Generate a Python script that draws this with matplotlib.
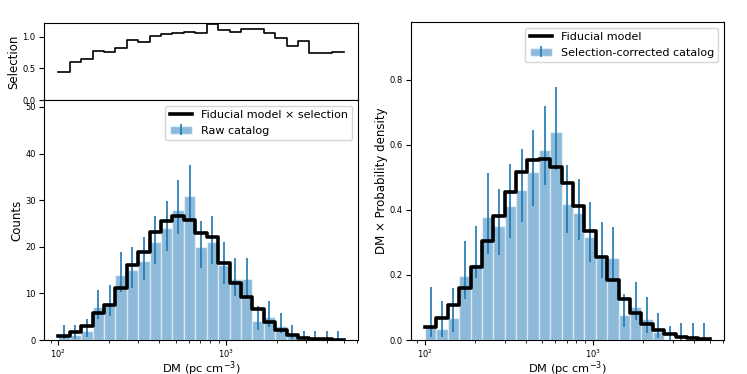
import numpy as np
import matplotlib
matplotlib.use("Agg")
import matplotlib.pyplot as plt
from matplotlib.legend_handler import HandlerTuple

# ビン (DM 100 - 5000, 対数で 25 本)
dm_min = 100.0
dm_max = 5000.0
n_bins = 25

# 選択関数
selection = [0.443, 0.604, 0.641, 0.781, 0.760, 0.818, 0.948, 0.911, 1.010, 1.036,
             1.063, 1.078, 1.057, 1.198, 1.109, 1.078, 1.125, 1.120, 1.052, 0.979,
             0.859, 0.932, 0.734, 0.740, 0.755]

# 左: 生カタログのカウントとモデル×選択
raw_counts = [1, 1, 2, 7, 8, 14, 15, 17, 21, 24, 28, 31, 20, 21, 16, 13, 13, 4, 5, 3,
              1, 0, 0, 0, 0]
raw_err_lo = [0.17, 0.17, 0.7, 4.4, 5.1, 10.3, 11.2, 12.9, 16.4, 19.2, 22.8, 25.6, 15.5,
              16.4, 12.0, 9.4, 9.4, 2.1, 2.8, 1.4, 0.17, 0, 0, 0, 0]
raw_err_hi = [3.3, 3.3, 4.6, 10.7, 11.9, 18.8, 19.9, 22.2, 26.6, 29.9, 34.3, 37.6, 25.5,
              26.6, 21.1, 17.7, 17.7, 7.2, 8.4, 5.9, 3.3, 1.84, 1.84, 1.84, 1.84]
model_sel = [0.86, 1.8, 3.07, 5.7, 7.6, 11.1, 16.2, 18.9, 23.2, 25.5, 26.6, 25.7, 22.9,
             22.0, 16.6, 12.3, 9.3, 6.6, 3.8, 2.1, 1.07, 0.5, 0.2, 0.14, 0.07]

# 右: 選択補正済みカタログとモデル
corr_vals = [0.046, 0.035, 0.067, 0.197, 0.233, 0.379, 0.352, 0.412, 0.462, 0.517,
             0.585, 0.639, 0.418, 0.392, 0.318, 0.253, 0.253, 0.077, 0.103, 0.065,
             0.024, 0, 0, 0, 0]
corr_err_lo = [0.008, 0.008, 0.026, 0.126, 0.19, 0.265, 0.26, 0.315, 0.364, 0.413,
               0.477, 0.523, 0.328, 0.308, 0.241, 0.19, 0.185, 0.041, 0.062, 0.023,
               0.005, 0, 0, 0, 0]
corr_err_hi = [0.164, 0.121, 0.159, 0.306, 0.351, 0.513, 0.465, 0.54, 0.587, 0.646,
               0.72, 0.777, 0.538, 0.496, 0.423, 0.362, 0.349, 0.141, 0.177, 0.133,
               0.084, 0.043, 0.053, 0.053, 0.053]
model_pdf = [0.040, 0.069, 0.108, 0.159, 0.226, 0.303, 0.382, 0.455, 0.518, 0.554,
             0.558, 0.531, 0.484, 0.413, 0.335, 0.256, 0.185, 0.126, 0.082, 0.048,
             0.031, 0.017, 0.009, 0.005, 0.003]

edges = np.geomspace(dm_min, dm_max, n_bins + 1)
centers = np.sqrt(edges[:-1] * edges[1:])
widths = np.diff(edges)

TICK_FS = 6.0
LABEL_FS = 8.5
LEG_FS = 8.0


def draw_hist(ax, vals, lo, hi, model, model_label, data_label):
    vals = np.asarray(vals)
    bars = ax.bar(edges[:-1], vals, width=widths, align="edge", color="C0", alpha=0.5,
                  edgecolor="white", linewidth=1.0)
    yerr = [vals - np.asarray(lo), np.asarray(hi) - vals]
    err = ax.errorbar(centers, vals, yerr=yerr, fmt="none", ecolor="C0", elinewidth=1.2)
    line, = ax.step(edges, np.append(model, model[-1]), where="post", color="k", lw=2.6)
    ax.set_xscale("log")
    ax.legend([line, (bars, err)], [model_label, data_label],
              handler_map={tuple: HandlerTuple(ndivide=1, pad=0)},
              loc="upper right", fontsize=LEG_FS, handlelength=2.0)
    ax.tick_params(labelsize=TICK_FS, pad=2.5)
    ax.tick_params(axis="x", pad=2)
    ax.set_xlabel("DM (pc cm$^{-3}$)", fontsize=8.2, labelpad=-0.5)


fig = plt.figure(figsize=(7.47, 3.74), dpi=100)

ax_sel = fig.add_axes([0.0589, 0.7326, 0.4203, 0.2067])
ax_raw = fig.add_axes([0.0589, 0.0909, 0.4203, 0.6417], sharex=ax_sel)
ax_cor = fig.add_axes([0.5498, 0.0909, 0.4194, 0.8503])

# 選択関数パネル
ax_sel.step(edges, np.append(selection, selection[-1]), where="post", color="k", lw=1.2)
ax_sel.set_ylim(0, 1.22)
ax_sel.set_yticks([0.0, 0.5, 1.0])
ax_sel.set_ylabel("Selection", fontsize=LABEL_FS, labelpad=2)
ax_sel.tick_params(labelsize=TICK_FS, pad=2.5)
ax_sel.tick_params(axis="x", which="both", bottom=False, labelbottom=False)

draw_hist(ax_raw, raw_counts, raw_err_lo, raw_err_hi, model_sel,
          "Fiducial model \u00d7 selection", "Raw catalog")
ax_raw.set_ylim(0, 51.5)
ax_raw.set_yticks([0, 10, 20, 30, 40, 50])
ax_raw.set_ylabel("Counts", fontsize=LABEL_FS, labelpad=1)

draw_hist(ax_cor, corr_vals, corr_err_lo, corr_err_hi, model_pdf,
          "Fiducial model", "Selection-corrected catalog")
ax_cor.set_ylim(0, 0.978)
ax_cor.set_yticks([0.0, 0.2, 0.4, 0.6, 0.8])
ax_cor.set_ylabel("DM \u00d7 Probability density", fontsize=LABEL_FS, labelpad=1)

plt.savefig("out.png", dpi=100)
plt.close()
